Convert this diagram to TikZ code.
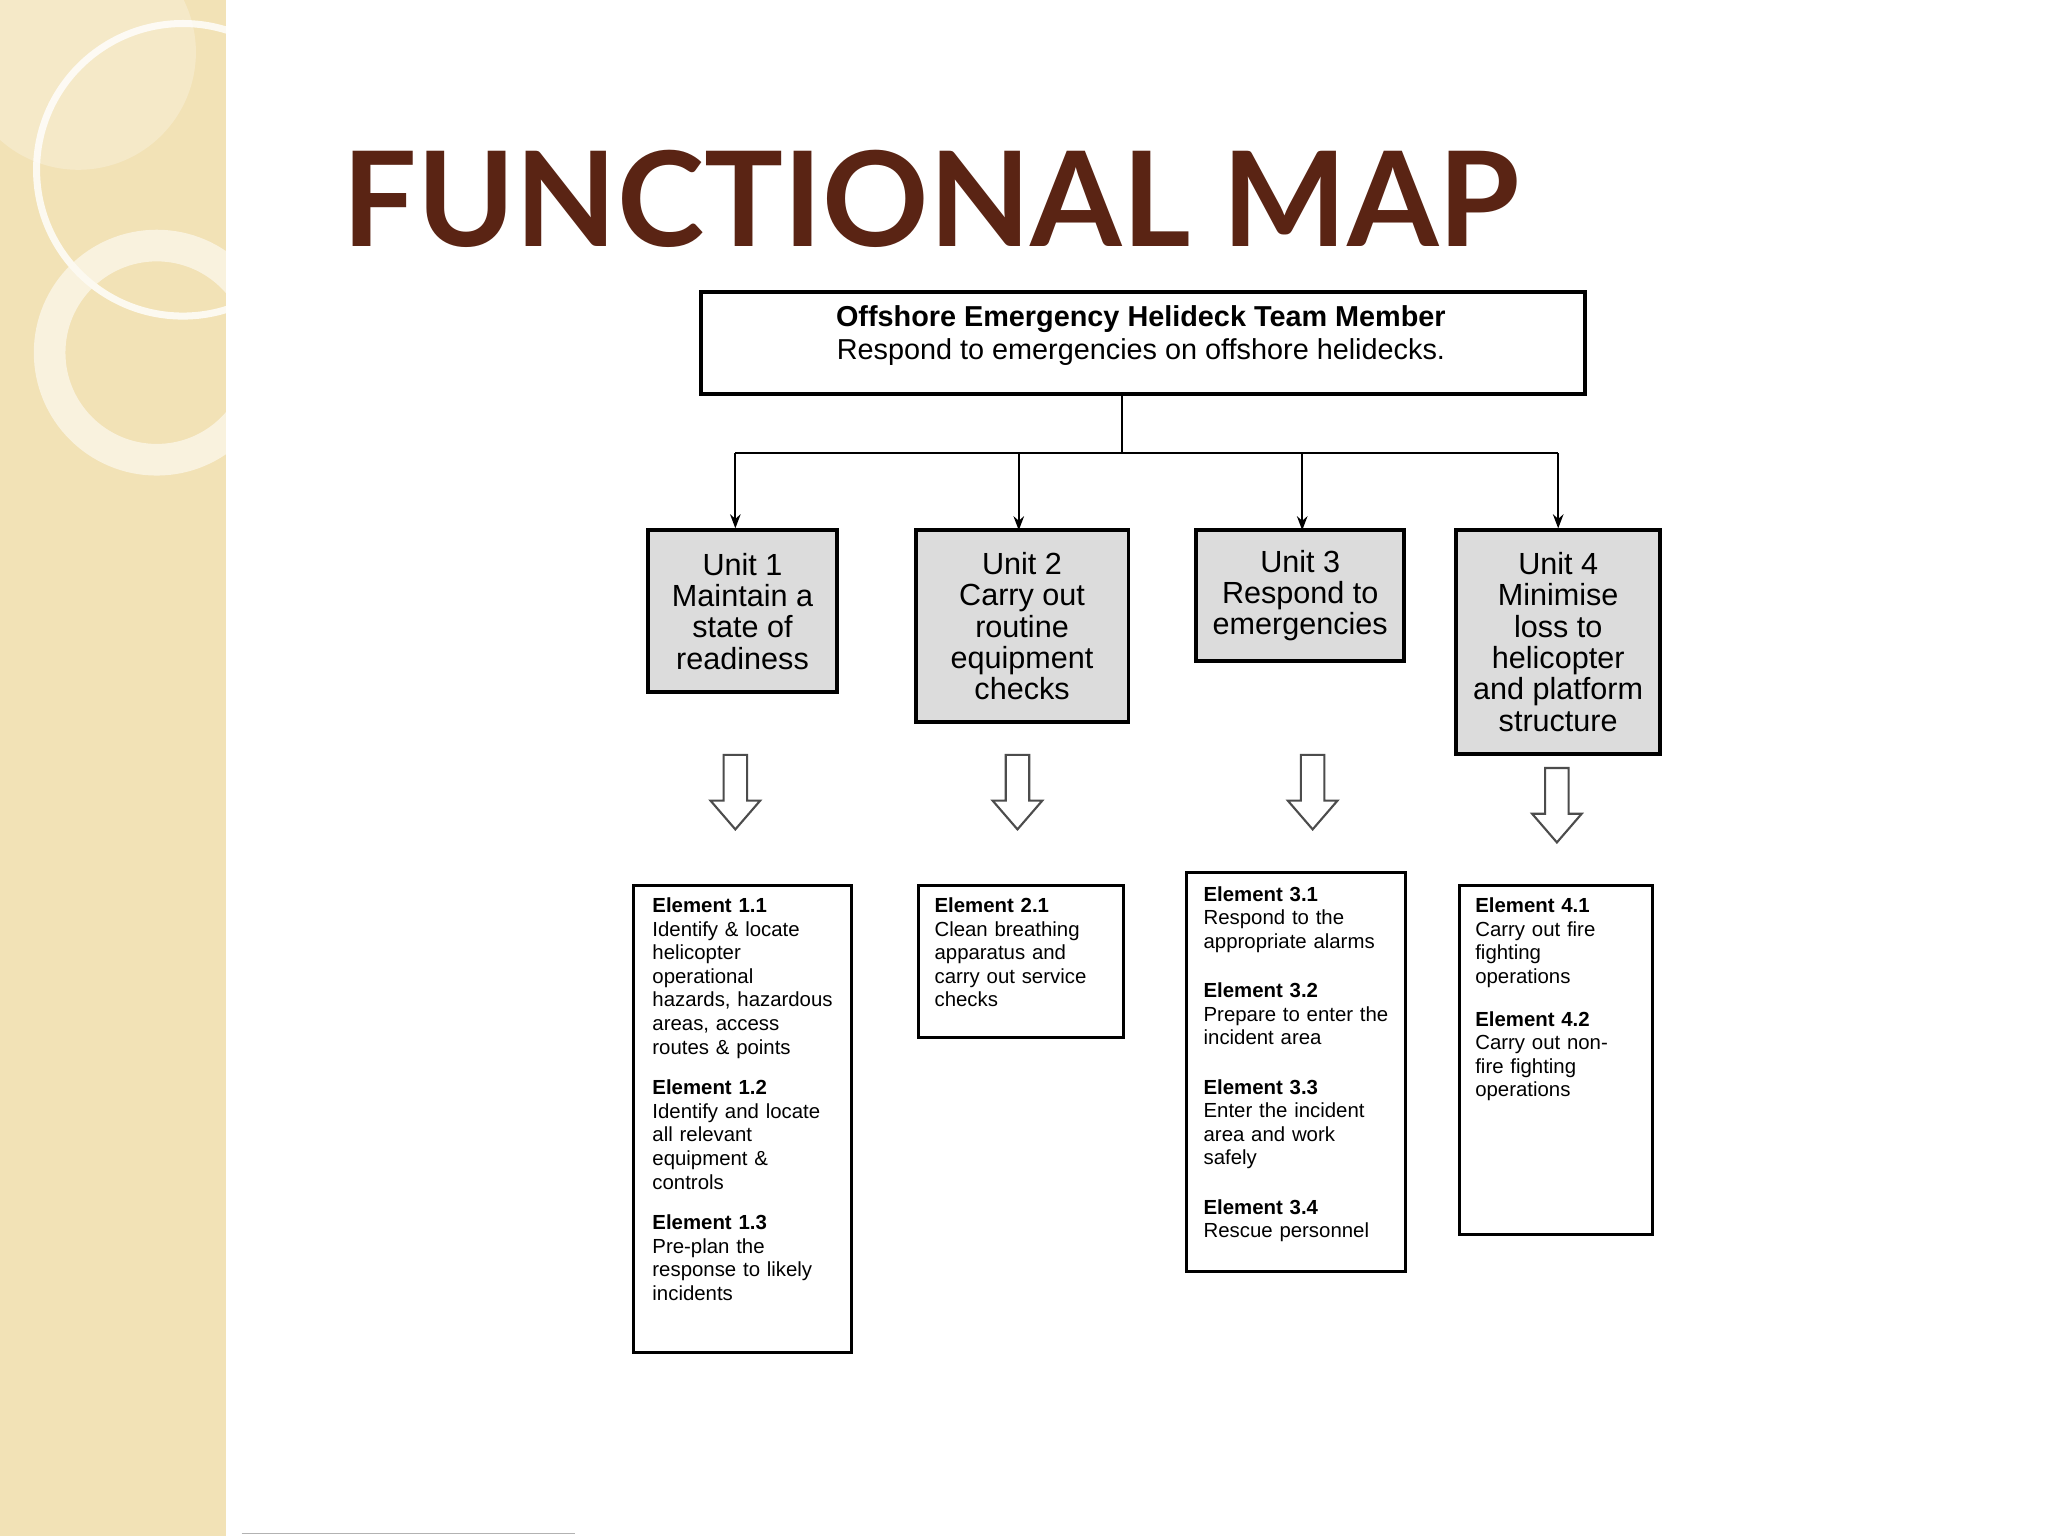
\documentclass[tikz,border=0pt]{standalone}
\usepackage{fontspec}
\setmainfont{Liberation Sans}
\newfontfamily\titlefont{Lato}
\usetikzlibrary{arrows.meta}
\definecolor{beige}{HTML}{F2E2B6}
\definecolor{titlec}{HTML}{5A2414}
\definecolor{ugray}{HTML}{DCDCDC}
\begin{document}
\begin{tikzpicture}[x=0.013061cm,y=-0.013061cm,
  unit/.style={draw,line width=1.1pt,fill=ugray,inner sep=0pt,align=center,font=\fontsize{8.7}{8.9}\selectfont},
  frame/.style={draw,line width=0.9pt,anchor=north west,inner sep=0pt},
  etext/.style={anchor=north west,align=left,inner sep=0pt,font=\fontsize{5.8}{6.7}\selectfont},
  conn/.style={line width=0.6pt,-{Stealth[length=4pt,width=3pt]}},
  hollow/.style={draw=black!70,fill=white,line width=0.6pt}]
\useasboundingbox (0,0) rectangle (1568,1176);
\fill[white] (0,0) rectangle (1568,1176);
\fill[beige] (0,0) rectangle (173,1176);
\begin{scope}
\clip (0,0) rectangle (173,1176);
\fill[white,opacity=0.25] (60,40) circle (90);
\draw[white,line width=2pt,opacity=0.8] (140,130) circle (112);
\draw[white!80!beige,line width=9pt,opacity=0.7] (120,270) circle (82);
\end{scope}
\draw[black!30] (185,1174) -- (440,1174);
\node[anchor=west,inner sep=0pt,text=titlec,font=\titlefont\bfseries\fontsize{37.5}{37.5}\selectfont] (title) at (262,152) {FUNCTIONAL MAP};
\node[frame,line width=1.1pt,minimum width=8.84cm,minimum height=1.02cm] (top) at (535,222) {};
\node[align=center,font=\fontsize{8.2}{9.6}\selectfont] (toptext) at (873.5,257) {\textbf{Offshore Emergency Helideck Team Member}\\Respond to emergencies on offshore helidecks.};
\node[unit,minimum width=1.894cm,minimum height=1.62cm] (u1) at (568.5,468) {Unit 1\\Maintain a\\state of\\readiness};
\node[unit,minimum width=2.129cm,minimum height=1.92cm] (u2) at (782.5,479.5) {Unit 2\\Carry out\\routine\\equipment\\checks};
\node[unit,minimum width=2.077cm,minimum height=1.306cm] (u3) at (995.5,456) {Unit 3\\Respond to\\emergencies};
\node[unit,minimum width=2.038cm,minimum height=2.233cm] (u4) at (1193,491.5) {Unit 4\\Minimise\\loss to\\helicopter\\and platform\\structure};
\coordinate (j) at (859,347);
\coordinate (j1) at (563,347);
\coordinate (j4) at (1193,347);
\draw[line width=0.6pt] (top.south -| j) -- (j);
\draw[line width=0.6pt] (j1) -- (j4);
\draw[conn] (j1) -- (j1 |- u1.north);
\draw[conn] (780,347) -- (780,406);
\draw[conn] (997,347) -- (997,406);
\draw[conn] (j4) -- (u4.north);
\foreach \x/\y in {563/578,779/578,1005/578,1192/588}{
  \path[hollow] (\x-9,\y) -- (\x+9,\y) -- (\x+9,\y+35) -- (\x+19,\y+35) -- (\x,\y+57) -- (\x-19,\y+35) -- (\x-9,\y+35) -- cycle;
}
\node[frame,minimum width=2.181cm,minimum height=4.663cm] (e1) at (484,677) {};
\node[etext,text width=1.95cm] (e1t) at (499,687) {\textbf{Element 1.1}\\Identify \& locate\\helicopter\\operational\\hazards, hazardous\\areas, access\\routes \& points\\[1.6ex]\textbf{Element 1.2}\\Identify and locate\\all relevant\\equipment \&\\controls\\[1.6ex]\textbf{Element 1.3}\\Pre-plan the\\response to likely\\incidents};
\node[frame,minimum width=2.051cm,minimum height=1.515cm] (e2) at (702,677) {};
\node[etext,text width=1.85cm] (e2t) at (715,687) {\textbf{Element 2.1}\\Clean breathing\\apparatus and\\carry out service\\checks};
\node[frame,minimum width=2.194cm,minimum height=3.984cm] (e3) at (907,667) {};
\node[etext,text width=2.0cm] (e3t) at (921,678) {\textbf{Element 3.1}\\Respond to the\\appropriate alarms\\[2.4ex]\textbf{Element 3.2}\\Prepare to enter the\\incident area\\[2.4ex]\textbf{Element 3.3}\\Enter the incident\\area and work\\safely\\[2.4ex]\textbf{Element 3.4}\\Rescue personnel};
\node[frame,minimum width=1.933cm,minimum height=3.487cm] (e4) at (1116,677) {};
\node[etext,text width=1.7cm] (e4t) at (1129,687) {\textbf{Element 4.1}\\Carry out fire\\fighting\\operations\\[1.8ex]\textbf{Element 4.2}\\Carry out non-\\fire fighting\\operations};
\end{tikzpicture}
\end{document}
